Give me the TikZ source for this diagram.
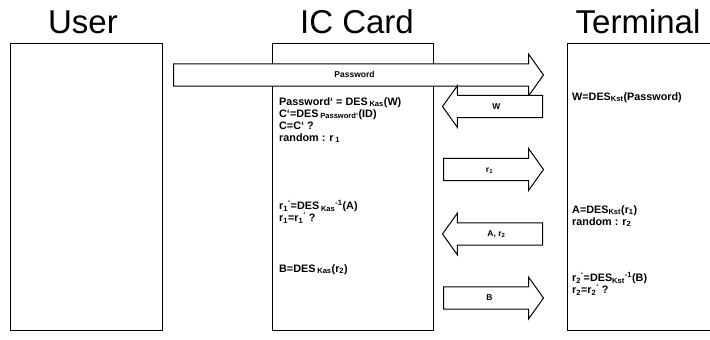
\documentclass[tikz,border=0pt]{standalone}
\usepackage{fontspec}
\setmainfont{Liberation Sans}
\usetikzlibrary{positioning,shapes.arrows}

\begin{document}
\begin{tikzpicture}[
  x=1pt, y=-1pt,
  font=\fontsize{10.8}{12}\selectfont\bfseries,
  title/.style={font=\fontsize{33}{36}\selectfont, inner sep=0pt},
  party/.style={draw, line width=1pt, fill=white, anchor=north west,
                inner sep=0pt, minimum height=287pt},
  steps/.style={anchor=north west, align=left, inner sep=0pt},
  msg/.style={single arrow, draw, line width=1pt, fill=white, anchor=tail,
              inner xsep=0pt, inner ysep=1pt, text height=9pt, text depth=4pt,
              minimum width=42pt, minimum height=100pt,
              single arrow tip angle=109,
              font=\fontsize{8.5}{9}\selectfont\bfseries},
  back/.style={msg, shape border rotate=180}]

\clip (0,0) rectangle (710,340);

% the three parties
\node[title] (tuser) at (83,22) {User};
\node[title] (tcard) at (357,22) {IC Card};
\node[title] (tterm) at (638,22) {Terminal};

\node[party, minimum width=152pt] (user) at (10,43) {};
\node[party, minimum width=161pt] (card) at (272,43) {};
\node[party, minimum width=160pt] (term) at (567,43) {};

% what each side computes
\node[steps] (c1) at (279,97) {Password` = DES\,\textsubscript{Kas}(W)\\
  C`=DES\,\textsubscript{Password`}(ID)\\
  C=C` ?\\
  random : r\,\textsubscript{1}};
\node[steps] (c2) at (279,200) {r\textsubscript{1}\textsuperscript{`}=DES\,\textsubscript{Kas}\textsuperscript{-1}(A)\\
  r\textsubscript{1}=r\textsubscript{1}\textsuperscript{`} ?};
\node[steps] (c3) at (279,264) {B=DES\,\textsubscript{Kas}(r\textsubscript{2})};

\node[steps] (t1) at (572,92) {W=DES\textsubscript{Kst}(Password)};
\node[steps] (t2) at (572,205) {A=DES\textsubscript{Kst}(r\textsubscript{1})\\
  random : r\textsubscript{2}};
\node[steps] (t3) at (572,272) {r\textsubscript{2}\textsuperscript{`}=DES\textsubscript{Kst}\textsuperscript{-1}(B)\\
  r\textsubscript{2}=r\textsubscript{2}\textsuperscript{`} ?};

% messages
\node[msg, minimum height=370pt] (pw) at (173,75) {Password};
\node[back] (w) at (543,106.5) {W};
\node[msg] (r1) at (443,169.5) {r\textsubscript{1}};
\node[back] (ar) at (543,234) {A, r\textsubscript{2}};
\node[msg] (b) at (443,298) {B};
\end{tikzpicture}
\end{document}
